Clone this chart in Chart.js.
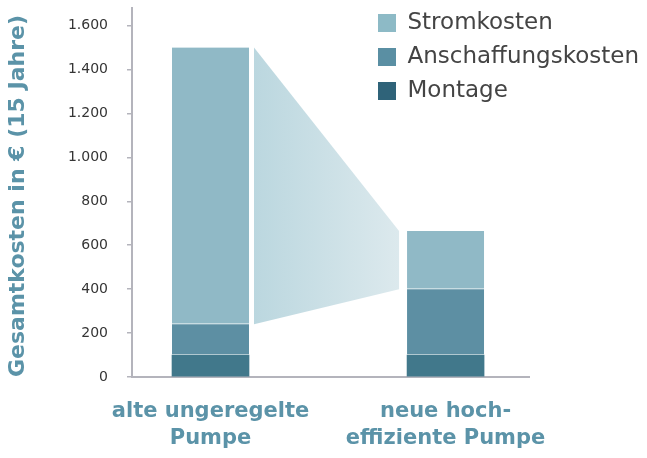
<!DOCTYPE html>
<html>
<head>
<meta charset="utf-8">
<script src="https://cdn.jsdelivr.net/npm/chart.js@4.4.1/dist/chart.umd.min.js"></script>
<style>
  html, body { margin: 0; padding: 0; background: #ffffff; }
  #wrap { width: 647px; height: 458px; }
</style>
</head>
<body>
<div id="wrap"><canvas id="c" width="647" height="458"></canvas></div>
<script>
// ---- data ----
const categories = [['alte ungeregelte', 'Pumpe'], ['neue hoch-', 'effiziente Pumpe']];
const montage = [100, 100];
const anschaffungskosten = [140, 300];
const stromkosten = [1260, 265];
const yTicks = [0, 200, 400, 600, 800, 1000, 1200, 1400, 1600];
const seriesNames = ['Montage', 'Anschaffungskosten', 'Stromkosten'];
const yTitle = 'Gesamtkosten in € (15 Jahre)';

// ---- styles ----
const barColors = ['#41788b', '#5d8fa3', '#90b9c6'];
const legendColors = ['#2f6379', '#5a8fa3', '#8dbac6'];
const accent = '#5b93a8';
const axisGray = '#b4b4bc';

const xIdx = categories.map((_, i) => i);
const toPoints = arr => arr.map((v, i) => ({ x: xIdx[i], y: v }));
const fmt = v => String(v).replace(/\B(?=(\d{3})+(?!\d))/g, '.');

const transitionPlugin = {
  id: 'transition',
  beforeDatasetsDraw(chart) {
    const y = chart.scales.y;
    const top = chart.getDatasetMeta(2).data;
    if (!top || top.length < 2) return;
    const l = top[0], r = top[1];
    const x0 = l.x + l.width / 2 + 5;
    const x1 = r.x - r.width / 2 - 8;
    const leftTop = montage[0] + anschaffungskosten[0] + stromkosten[0];
    const leftBot = montage[0] + anschaffungskosten[0];
    const rightTop = montage[1] + anschaffungskosten[1] + stromkosten[1];
    const rightBot = montage[1] + anschaffungskosten[1];
    const ctx = chart.ctx;
    const g = ctx.createLinearGradient(x0, 0, x1, 0);
    g.addColorStop(0, '#bbd7df');
    g.addColorStop(1, '#dce9ed');
    ctx.save();
    ctx.beginPath();
    ctx.moveTo(x0, y.getPixelForValue(leftTop));
    ctx.lineTo(x1, y.getPixelForValue(rightTop));
    ctx.lineTo(x1, y.getPixelForValue(rightBot));
    ctx.lineTo(x0, y.getPixelForValue(leftBot));
    ctx.closePath();
    ctx.fillStyle = g;
    ctx.fill();
    ctx.restore();
  }
};

const legendPlacer = {
  id: 'legendPlacer',
  afterLayout(chart) {
    const lg = chart.legend;
    if (!lg) return;
    const w = lg.width, h = lg.height;
    lg.left = 367; lg.top = 0.5;
    lg.right = lg.left + w; lg.bottom = lg.top + h;
  }
};

const seriesData = [montage, anschaffungskosten, stromkosten];

new Chart(document.getElementById('c'), {
  type: 'bar',
  data: {
    datasets: seriesData.map((arr, i) => ({
      label: seriesNames[i],
      data: toPoints(arr),
      backgroundColor: barColors[i],
      borderColor: 'rgba(255,255,255,0.25)',
      borderWidth: i === 0 ? 0 : { top: 0, bottom: 1, left: 0, right: 0 },
      borderSkipped: false,
      barThickness: 77
    }))
  },
  options: {
    responsive: false,
    animation: false,
    layout: { padding: { top: 8, right: 118, left: 0, bottom: 0 } },
    plugins: {
      tooltip: { enabled: false },
      legend: {
        position: 'chartArea',
        align: 'start',
        reverse: true,
        labels: {
          boxWidth: 18,
          boxHeight: 18,
          padding: 11,
          color: '#444444',
          font: { family: 'DejaVu Sans', size: 23 },
          generateLabels(chart) {
            const items = Chart.defaults.plugins.legend.labels.generateLabels(chart);
            items.forEach(it => {
              it.fillStyle = legendColors[it.datasetIndex];
              it.strokeStyle = legendColors[it.datasetIndex];
              it.lineWidth = 0;
            });
            return items;
          }
        }
      }
    },
    scales: {
      x: {
        type: 'linear',
        stacked: true,
        offset: false,
        min: -0.334,
        max: 1.355,
        afterBuildTicks(scale) { scale.ticks = xIdx.map(v => ({ value: v })); },
        afterFit(scale) {
          scale.height = 81;
          scale.paddingLeft = 0; scale.paddingRight = 0;
          scale.paddingTop = 0; scale.paddingBottom = 0;
        },
        grid: { display: false, drawTicks: false, offset: false },
        border: { display: true, color: axisGray, width: 2 },
        ticks: {
          autoSkip: false,
          maxRotation: 0,
          padding: 21,
          color: accent,
          font: { family: 'DejaVu Sans', size: 21, weight: 'bold', lineHeight: 1.28 },
          callback: v => categories[v]
        }
      },
      y: {
        stacked: true,
        min: 0,
        max: 1680,
        afterBuildTicks(scale) { scale.ticks = yTicks.map(v => ({ value: v })); },
        afterFit(scale) {
          scale.width = 132;
          scale.paddingTop = 0; scale.paddingBottom = 0;
          scale.paddingLeft = 0; scale.paddingRight = 0;
        },
        grid: { drawOnChartArea: false, drawTicks: true, tickLength: 5, color: axisGray, lineWidth: 1.5 },
        border: { display: true, color: axisGray, width: 2 },
        ticks: {
          padding: 19,
          color: '#353535',
          font: { family: 'DejaVu Sans', size: 14 },
          callback: v => fmt(v)
        },
        title: {
          display: true,
          text: yTitle,
          align: 'start',
          color: accent,
          font: { family: 'DejaVu Sans', size: 22, weight: 'bold' },
          padding: { top: 5, bottom: 0 }
        }
      }
    }
  },
  plugins: [transitionPlugin, legendPlacer]
});
</script>
</body>
</html>
